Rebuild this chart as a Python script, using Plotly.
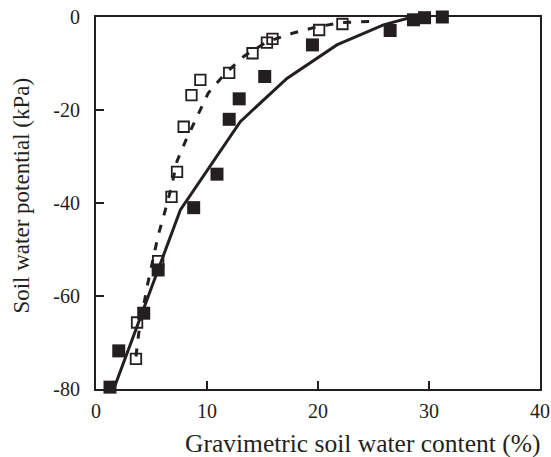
import plotly.graph_objects as go

# Open squares (observed, series 1)
open_x = [3.6, 3.7, 5.6, 6.8, 7.3, 7.9, 8.6, 9.4, 12.0, 14.1, 15.4, 15.9, 20.1, 22.2]
open_y = [-73.5, -65.7, -52.5, -38.7, -33.3, -23.6, -16.8, -13.5, -12.0, -7.8, -5.5, -4.7, -2.8, -1.5]

# Filled squares (observed, series 2)
fill_x = [1.26, 2.05, 4.3, 5.6, 8.8, 10.9, 12.0, 12.9, 15.2, 19.5, 26.5, 28.6, 29.6, 31.2]
fill_y = [-79.6, -71.8, -63.7, -54.4, -41.0, -33.8, -22.0, -17.6, -12.8, -6.0, -2.9, -0.6, -0.15, 0.0]

# Solid fitted curve
solid_x = [1.6, 7.6, 13.0, 17.2, 21.7, 25.9, 28.5]
solid_y = [-80.0, -41.5, -22.5, -13.2, -6.0, -1.7, 0.0]

# Dashed fitted curve
dash_x = [3.6, 3.85, 4.6, 5.6, 6.2, 6.8, 7.3, 8.1, 10.1, 11.5, 13.3, 15.4, 17.7, 19.9, 22.2, 25.0]
dash_y = [-73.0, -68.0, -58.0, -47.0, -41.9, -36.5, -31.0, -26.5, -16.4, -12.5, -8.5, -5.3, -3.5, -2.1, -1.2, -0.9]

x_ticks = [0, 10, 20, 30, 40]
y_ticks = [0, -20, -40, -60, -80]
y_tick_text = ["0", "-20", "-40", "-60", "-80"]

x_title = "Gravimetric soil water content (%)"
y_title = "Soil water potential (kPa)"

ink = "#231f20"
serif = "Liberation Serif, Times New Roman, serif"

fig = go.Figure()
fig.add_trace(go.Scatter(x=solid_x, y=solid_y, mode="lines",
                         line=dict(color=ink, width=3), cliponaxis=False))
fig.add_trace(go.Scatter(x=dash_x, y=dash_y, mode="lines",
                         line=dict(color=ink, width=3, dash="8px,10px"), cliponaxis=False))
fig.add_trace(go.Scatter(x=open_x, y=open_y, mode="markers",
                         marker=dict(symbol="square-open", size=10.5, color=ink,
                                     line=dict(width=1.8, color=ink)), cliponaxis=False))
fig.add_trace(go.Scatter(x=fill_x, y=fill_y, mode="markers",
                         marker=dict(symbol="square", size=13, color=ink,
                                     line=dict(width=0)), cliponaxis=False))

tickfont = dict(family=serif, color=ink, size=20)
fig.update_layout(
    width=551, height=457,
    margin=dict(l=96, r=11, t=17, b=68),
    paper_bgcolor="white", plot_bgcolor="white",
    showlegend=False,
    hovermode=False,
    font=dict(family=serif, color=ink, size=20),
    xaxis=dict(range=[0, 40], tickvals=x_ticks, ticks="inside", ticklen=8, tickwidth=2,
               tickcolor=ink, showline=True, linecolor=ink, linewidth=2, mirror=True,
               showgrid=False, zeroline=False, tickfont=tickfont, automargin=False,
               ticklabelstandoff=3, ticklabeloverflow="allow"),
    yaxis=dict(range=[-80, 0], tickvals=y_ticks, ticktext=y_tick_text, ticks="inside",
               ticklen=8, tickwidth=2, tickcolor=ink, showline=True, linecolor=ink,
               linewidth=2, mirror=True, showgrid=False, zeroline=False,
               tickfont=tickfont, automargin=False, ticklabelstandoff=10,
               ticklabeloverflow="allow"),
    annotations=[
        dict(text=x_title, xref="paper", yref="paper", x=0.6, y=0,
             xanchor="center", yanchor="middle", yshift=-54, showarrow=False,
             font=dict(family=serif, color=ink, size=25.5)),
        dict(text=y_title, xref="paper", yref="paper", x=0, y=0.52,
             xanchor="center", yanchor="middle", xshift=-74, textangle=-90,
             showarrow=False, font=dict(family=serif, color=ink, size=23)),
    ],
)
# remove the browser's default 8px page margin so the figure fills the window exactly
fig.write_html("out.html", config={"displayModeBar": False, "staticPlot": True},
               post_script="document.body.style.margin='0';document.body.style.overflow='hidden';")
